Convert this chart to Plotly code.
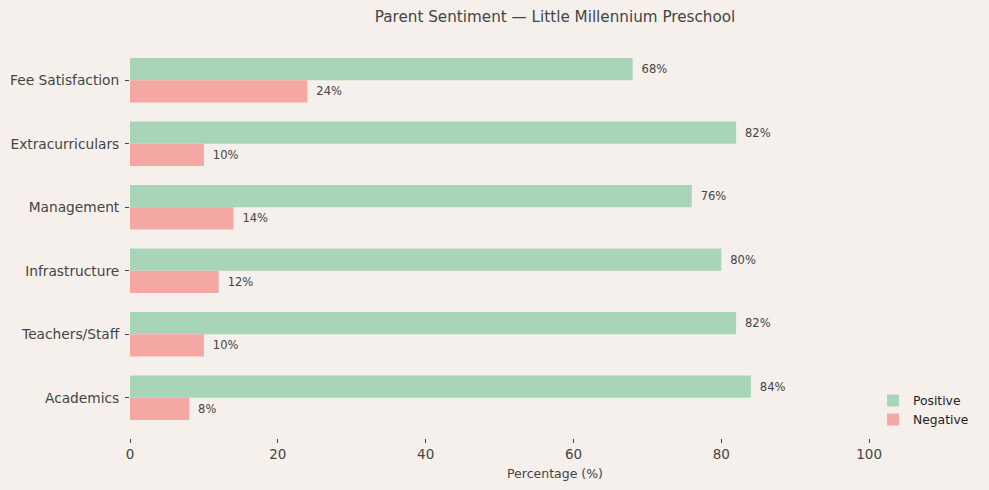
import plotly.graph_objects as go

categories = ["Academics", "Teachers/Staff", "Infrastructure", "Management", "Extracurriculars", "Fee Satisfaction"]
positive = [84, 82, 80, 76, 82, 68]
negative = [8, 10, 12, 14, 10, 24]
x_ticks = [0, 20, 40, 60, 80, 100]

BG = "#f5f0eb"
GREEN = "#a8d5ba"
RED = "#f5a7a4"
TXT = "#444444"
FONT = "DejaVu Sans"

fig = go.Figure()
fig.add_trace(go.Bar(
    y=list(range(len(categories))), x=positive, orientation="h", name="Positive",
    marker=dict(color=GREEN, line=dict(width=0)), width=0.35, offset=0,
    text=[f"\u00a0\u2009{v}%" for v in positive], textposition="outside",
    textfont=dict(size=11.5, color=TXT, family=FONT), cliponaxis=False,
))
fig.add_trace(go.Bar(
    y=list(range(len(categories))), x=negative, orientation="h", name="Negative",
    marker=dict(color=RED, line=dict(width=0)), width=0.35, offset=-0.35,
    text=[f"\u00a0\u2009{v}%" for v in negative], textposition="outside",
    textfont=dict(size=11.5, color=TXT, family=FONT), cliponaxis=False,
))

fig.update_layout(
    width=989, height=490,
    barmode="overlay",
    paper_bgcolor=BG, plot_bgcolor=BG,
    font=dict(family=FONT, color=TXT, size=13),
    margin=dict(l=130, r=9, t=40, b=52),
    title=dict(text="Parent Sentiment — Little Millennium Preschool", x=(130 + 980) / 2 / 989,
               xanchor="center", y=1 - 17 / 490, yanchor="middle",
               font=dict(size=15.2, color=TXT, family=FONT)),
    xaxis=dict(range=[0, 115], tickvals=x_ticks, showgrid=False, zeroline=False, showline=False,
               ticks="outside", ticklen=4, tickcolor=TXT, tickfont=dict(size=13.5, color=TXT),
               title=dict(text="Percentage (%)", font=dict(size=12.5, color=TXT), standoff=8)),
    yaxis=dict(range=[-0.635, 5.635], tickvals=list(range(len(categories))), ticktext=categories,
               showgrid=False, zeroline=False, showline=False, ticklabelstandoff=3,
               ticks="outside", ticklen=4, tickcolor=TXT, tickfont=dict(size=13.75, color=TXT)),
    legend=dict(x=0.993, y=0.01, xanchor="right", yanchor="bottom", bgcolor="rgba(0,0,0,0)",
                font=dict(size=12.3, color="#222222"), tracegroupgap=0, itemwidth=30),
    showlegend=True,
)

fig.write_html("out.html", config={"displayModeBar": False},
               post_script="document.body.style.margin='0';document.body.style.background='#f5f0eb';")
